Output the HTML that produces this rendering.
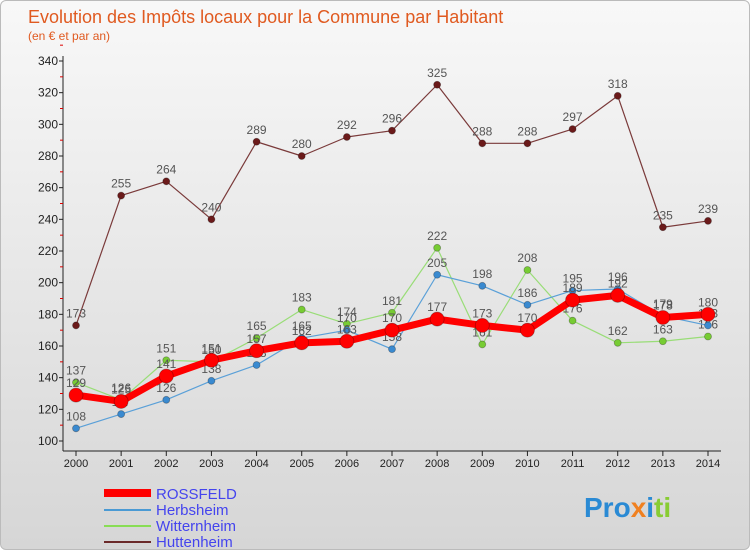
<!DOCTYPE html>
<html><head><meta charset="utf-8"><style>
body{margin:0;width:750px;height:550px;overflow:hidden;font-family:"Liberation Sans",sans-serif}
#wrap{position:absolute;left:0;top:0;width:748px;height:548px;border:1px solid #bbb;border-radius:6px;background:linear-gradient(#f8f8f8,#d6d6d6)}
</style></head><body>
<div id="wrap">
<svg id="chart" width="750" height="550">
<text x="27" y="22" font-size="18" fill="#e05a20">Evolution des Impôts locaux pour la Commune par Habitant</text>
<text x="27" y="39" font-size="12" fill="#e05a20">(en € et par an)</text>
<g id="axes"></g><g id="series"></g>
<g>
<line x1="103" y1="492" x2="150" y2="492" stroke="#f00" stroke-width="8"/>
<text x="155" y="498" font-size="15" fill="#4444ee">ROSSFELD</text>
<line x1="103" y1="509" x2="150" y2="509" stroke="#4a9ad4" stroke-width="2"/>
<text x="155" y="514" font-size="15" fill="#4444ee">Herbsheim</text>
<line x1="103" y1="525" x2="150" y2="525" stroke="#88dd55" stroke-width="2"/>
<text x="155" y="530" font-size="15" fill="#4444ee">Witternheim</text>
<line x1="103" y1="541" x2="150" y2="541" stroke="#6b2a2a" stroke-width="2"/>
<text x="155" y="546" font-size="15" fill="#4444ee">Huttenheim</text>
</g>
<text x="583" y="516" font-size="28" font-weight="bold"><tspan fill="#2a8ad4">Pro</tspan><tspan fill="#f08020">x</tspan><tspan fill="#2a8ad4">i</tspan><tspan fill="#88cc33">ti</tspan></text>
</svg></div>
<script>
const years=[2000,2001,2002,2003,2004,2005,2006,2007,2008,2009,2010,2011,2012,2013,2014];
const yTicks=[100,120,140,160,180,200,220,240,260,280,300,320,340];
const rossfeld=[129,125,141,151,157,162,163,170,177,173,170,189,192,178,180];
const herbsheim=[108,117,126,138,148,165,170,158,205,198,186,195,196,179,173];
const witternheim=[137,126,151,150,165,183,174,181,222,161,208,176,162,163,166];
const huttenheim=[173,255,264,240,289,280,292,296,325,288,288,297,318,235,239];
const NS="http://www.w3.org/2000/svg";
const xS=i=>75+i*(707-75)/(years.length-1);
const yS=v=>440-(v-100)*(380/240);
function mk(t,a,p){const e=document.createElementNS(NS,t);for(const k in a)e.setAttribute(k,a[k]);p.appendChild(e);return e;}
const ax=document.getElementById('axes');
const yl=mk('line',{x1:62,y1:55,x2:62,y2:450,stroke:'#222'},ax);


const xl=mk('line',{x1:62,y1:450,x2:720,y2:450,stroke:'#222'},ax);


yTicks.forEach(v=>{
 mk('line',{x1:58,y1:yS(v),x2:62,y2:yS(v),stroke:'#222'},ax);
 mk('line',{x1:59,y1:yS(v+10),x2:62,y2:yS(v+10),stroke:'#d00'},ax);
 const t=mk('text',{x:57,y:yS(v)+4,'font-size':12,'text-anchor':'end',fill:'#222'},ax);t.textContent=v;
 
 
});
years.forEach((y,i)=>{
 mk('line',{x1:xS(i),y1:450,x2:xS(i),y2:455,stroke:'#222'},ax);
 const t=mk('text',{x:xS(i),y:466,'font-size':11,'text-anchor':'middle',fill:'#222'},ax);t.textContent=y;
 
 
});
const sg=document.getElementById('series');
function draw(name,data,color,w,r,dot){
 const g=mk('g',{},sg);
 
 
 mk('polyline',{points:data.map((v,i)=>xS(i)+','+yS(v)).join(' '),fill:'none',stroke:color,'stroke-width':w,'stroke-linejoin':'round'},g);
 data.forEach((v,i)=>{
  const c=mk('circle',{cx:xS(i),cy:yS(v),r:r,fill:dot,stroke:'rgba(0,0,0,0.3)','stroke-width':0.8},g);
  
  
  const t=mk('text',{x:xS(i),y:yS(v)-8,'font-size':12,'text-anchor':'middle',fill:'#555'},g);t.textContent=v;
 });
}
draw('huttenheim',huttenheim,'#7a3a3a',1.2,3.5,'#6b1a1a');
draw('witternheim',witternheim,'#99dd77',1.2,3.5,'#77cc33');
draw('herbsheim',herbsheim,'#5aa0d8',1.2,3.5,'#3a8ad0');
draw('rossfeld',rossfeld,'#f00',7,7,'#f00');
</script>
</body></html>
